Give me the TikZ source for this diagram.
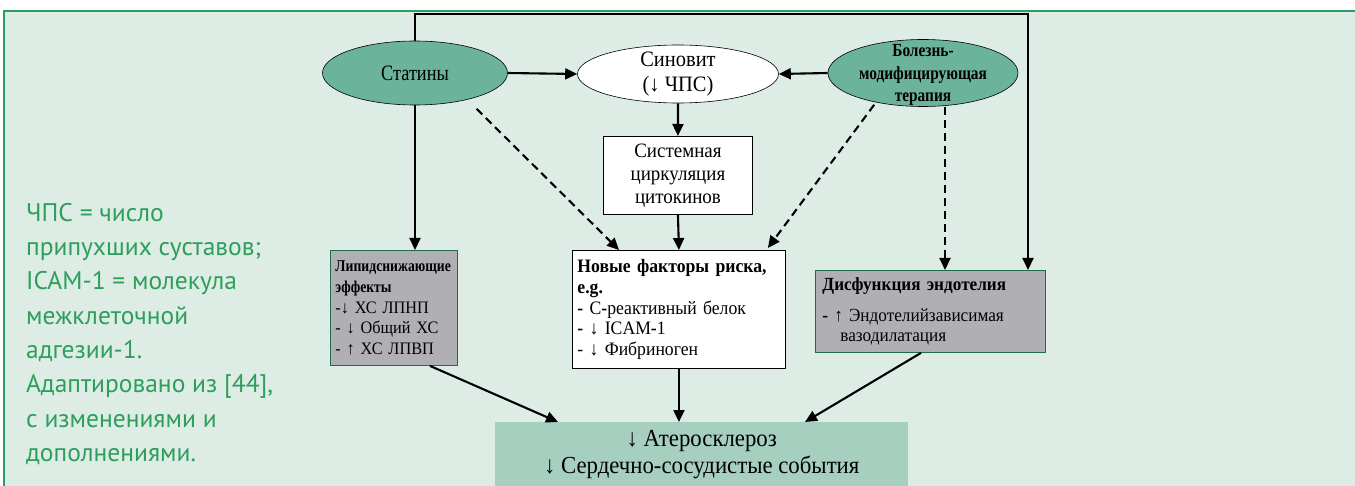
\documentclass[tikz,border=0pt]{standalone}
\usepackage{fontspec}
\setmainfont[FakeStretch=0.93]{Liberation Serif}
\newfontfamily\condserif[FakeStretch=0.83]{Liberation Serif}
\newfontfamily\notefont{PT Sans}
\usetikzlibrary{arrows.meta,shapes.geometric,calc}
\definecolor{panel}{HTML}{DDEDE5}
\definecolor{bordergreen}{HTML}{2E9A66}
\definecolor{ellgreen}{HTML}{6BB39A}
\definecolor{aterogreen}{HTML}{A6CFC0}
\definecolor{graybox}{HTML}{B0B0B4}
\definecolor{notegreen}{HTML}{2E9E5B}
\begin{document}
\begin{tikzpicture}[x=1pt,y=-1pt,
  arr/.style={line width=2.1pt,-{Triangle[length=12pt,width=11pt]}},
  darr/.style={arr,dash pattern=on 8pt off 5pt},
  ell/.style={ellipse,draw=black,line width=0.6pt,inner sep=0pt},
  wbox/.style={rectangle,draw=black,line width=0.9pt,fill=white,inner sep=0pt},
  gbox/.style={rectangle,draw=bordergreen!70!black,line width=0.9pt,fill=graybox,inner sep=0pt},
  lbl/.style={inner sep=0pt,align=center}]
\useasboundingbox (0,0) rectangle (1355,486);
\fill[panel] (4,11) rectangle (1355,486);
\draw[bordergreen,line width=1.5pt] (4,486) -- (4,11) -- (1355,11);

% note
\node[anchor=north west,inner sep=0pt,align=left,text=notegreen,
  font=\notefont\fontsize{25.5}{34.3}\selectfont] (note) at (26,203)
  {ЧПС = число\\припухших суставов;\\ICAM-1 = молекула\\межклеточной\\адгезии-1.\\Адаптировано из [44],\\с изменениями и\\дополнениями.};

% ellipses
\node[ell,fill=ellgreen,minimum width=185pt,minimum height=64pt] (stat) at (415,73) {};
\node[lbl,font=\condserif\fontsize{22}{24}\selectfont] (statt) at (stat.center) {Статины};
\node[ell,fill=white,minimum width=201pt,minimum height=58pt] (sin) at (678,74) {};
\node[lbl,font=\fontsize{22}{24.5}\selectfont] (sint) at (sin.center) {Синовит\\(↓ ЧПС)};
\node[ell,fill=ellgreen,minimum width=190pt,minimum height=67pt] (dmt) at (923,73) {};
\node[lbl,font=\condserif\bfseries\fontsize{18.5}{22.5}\selectfont] (dmtt) at ([yshift=-2pt]dmt.center) {Болезнь-\\модифицирующая\\терапия};

% boxes
\node[wbox,anchor=north west,minimum width=149pt,minimum height=78pt,align=center,
  font=\fontsize{20.4}{22.8}\selectfont] (sys) at (603,136) {Системная\\циркуляция\\цитокинов};
\node[gbox,anchor=north west,minimum width=127pt,minimum height=115pt,
  text width=117pt,align=left,font=\fontsize{17.5}{20.7}\selectfont] (lip) at (330,250)
  {{\condserif\bfseries\fontsize{16.5}{20.7}\selectfont Липидснижающие}\\{\condserif\bfseries\fontsize{16.5}{20.7}\selectfont эффекты}\\-↓ ХС ЛПНП\\- ↓ Общий ХС\\- ↑ ХС ЛПВП};
\node[wbox,anchor=north west,minimum width=213pt,minimum height=118pt,
  text width=203pt,align=left,font=\fontsize{19}{20.8}\selectfont] (new) at (572,250)
  {\textbf{Новые факторы риска,}\\\textbf{e.g.}\\\textbf{-} С\textbf{-}реактивный белок\\\textbf{-} ↓ ICAM\textbf{-}1\\- ↓ Фибриноген};
\node[gbox,anchor=north west,minimum width=230pt,minimum height=82pt,
  text width=216pt,align=left,font=\fontsize{18.5}{20.5}\selectfont] (dys) at (815,270)
  {\textbf{Дисфункция эндотелия}\\[10pt]\textbf{-} ↑ Эндотелийзависимая\\\hspace*{18pt}вазодилатация};
\node[rectangle,fill=aterogreen,anchor=north west,minimum width=413pt,minimum height=64pt,
  inner sep=0pt,align=center,font=\fontsize{24.5}{27}\selectfont] (ater) at (495,422)
  {↓ Атеросклероз\\↓ Сердечно-сосудистые события};

% connectors
\draw[arr] (stat.east) -- (sin.west);
\draw[arr] (dmt.west) -- (sin.east);
\draw[arr] (sin.south) -- (sys.north);
\draw[arr] (sys.south) -- (new.north);
\draw[arr] (stat.south) -- (stat.south |- lip.north);
\draw[darr,shorten <=13pt] (stat.333) -- ($(new.north west)+(47,0)$);
\draw[darr,shorten <=3pt] (dmt.212) -- ($(new.north east)+(-18,-2)$);
\draw[darr] (dmt.south -| 945,0) -- (945,0 |- dys.north);
\draw[arr] (stat.north) -- (stat.north |- 0,14) -- (1028,14) -- (1028,0 |- dys.north);
\draw[arr] ($(lip.south west)+(100,0)$) -- ($(ater.north west)+(63,0)$);
\draw[arr] (new.south) -- (new.south |- ater.north);
\draw[arr] ($(dys.south west)+(106,0)$) -- ($(ater.north west)+(310,0)$);
\end{tikzpicture}
\end{document}
